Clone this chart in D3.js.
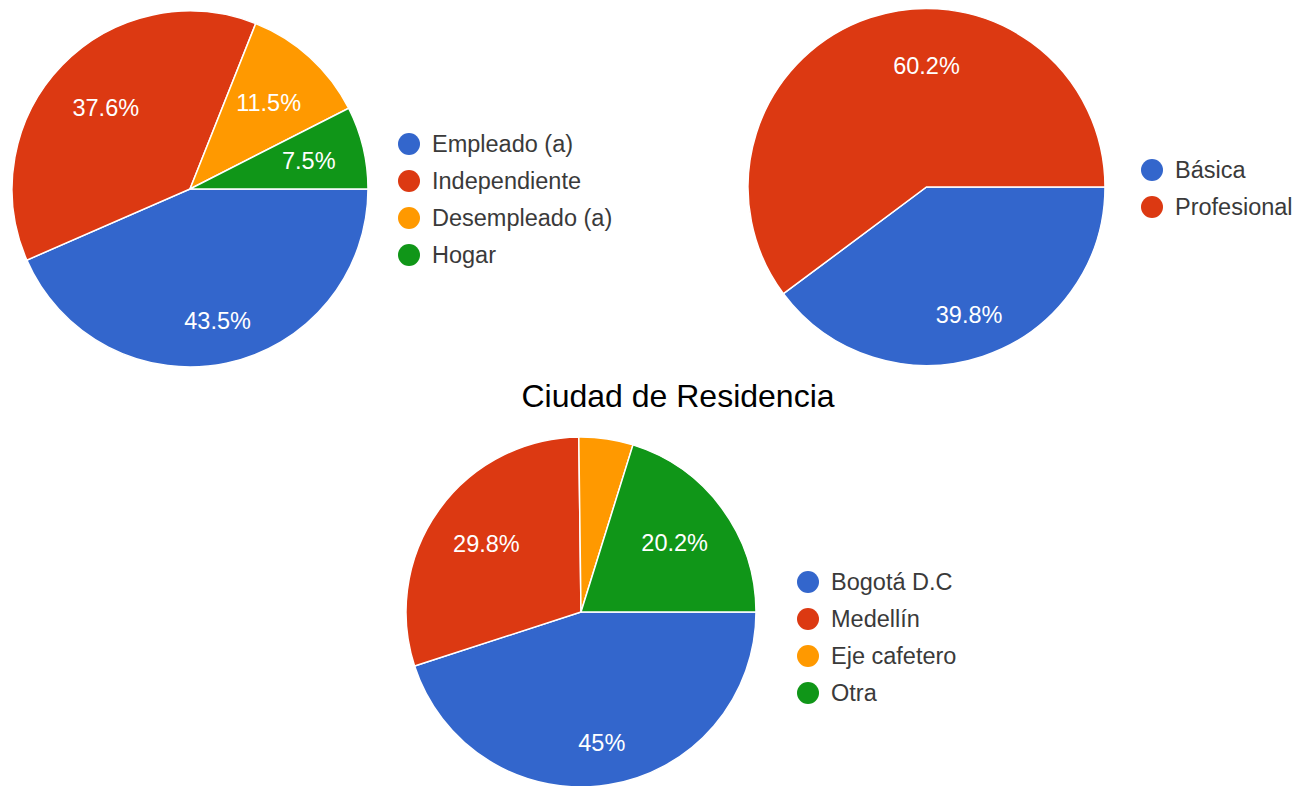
<!DOCTYPE html>
<html>
<head>
<meta charset="utf-8">
<script src="https://cdn.jsdelivr.net/npm/d3@7"></script>
<style>
  html, body { margin: 0; padding: 0; background: #fff; }
  svg { display: block; }
  text { font-family: Arial, "Liberation Sans", sans-serif; }
</style>
</head>
<body>
<svg id="chart" width="1296" height="786"></svg>
<script>
// ---- data ----
const colors = ["#3366CC", "#DC3912", "#FF9900", "#109618"];

const ocupacionCategories = ["Empleado (a)", "Independiente", "Desempleado (a)", "Hogar"];
const ocupacionValues = [43.5, 37.6, 11.5, 7.5];

const educacionCategories = ["Básica", "Profesional"];
const educacionValues = [39.8, 60.2];

const ciudadTitle = "Ciudad de Residencia";
const ciudadCategories = ["Bogotá D.C", "Medellín", "Eje cafetero", "Otra"];
const ciudadValues = [45, 29.8, 5, 20.2];

// ---- layout ----
const svg = d3.select("#chart");

const charts = [
  { cats: ocupacionCategories, vals: ocupacionValues, cx: 190, cy: 189, r: 178,
    legendX: 409, legendY: 144, title: null },
  { cats: educacionCategories, vals: educacionValues, cx: 926.5, cy: 187, r: 178.5,
    legendX: 1152, legendY: 170, title: null },
  { cats: ciudadCategories, vals: ciudadValues, cx: 581, cy: 612, r: 175,
    legendX: 808, legendY: 582, title: ciudadTitle, titleX: 678, titleY: 407 }
];

const fmt = v => (Math.round(v * 10) / 10).toString() + "%";

charts.forEach(c => {
  const pie = d3.pie().sort(null).value(d => d)
    .startAngle(Math.PI / 2).endAngle(Math.PI / 2 + 2 * Math.PI);
  const arcs = pie(c.vals);
  const arc = d3.arc().innerRadius(0).outerRadius(c.r);
  const g = svg.append("g").attr("transform", `translate(${c.cx},${c.cy})`);

  g.selectAll("path").data(arcs).enter().append("path")
    .attr("d", arc)
    .attr("fill", (d, i) => colors[i])
    .attr("stroke", "#fff")
    .attr("stroke-width", 1.5);

  g.selectAll("text.lbl").data(arcs.filter(d => d.data >= 6)).enter().append("text")
    .attr("class", "lbl")
    .attr("transform", d => {
      let a = (d.startAngle + d.endAngle) / 2;
      let rl;
      const span = d.endAngle - d.startAngle;
      if (span > Math.PI && d.startAngle < 2 * Math.PI && d.endAngle > 2 * Math.PI) {
        a = 0; rl = c.r * 0.68;
      } else {
        rl = c.r * (0.70 - 0.06 * Math.cos(a));
      }
      return `translate(${rl * Math.sin(a)},${-rl * Math.cos(a)})`;
    })
    .attr("text-anchor", "middle")
    .attr("dominant-baseline", "central")
    .attr("fill", "#fff")
    .attr("font-size", 23.5)
    .text(d => fmt(d.data));

  const lg = svg.append("g");
  c.cats.forEach((cat, i) => {
    const y = c.legendY + i * 37;
    lg.append("circle").attr("cx", c.legendX).attr("cy", y).attr("r", 11)
      .attr("fill", colors[i]);
    lg.append("text").attr("x", c.legendX + 23).attr("y", y)
      .attr("dominant-baseline", "central")
      .attr("fill", "#3a3a3a")
      .attr("font-size", 23.5)
      .text(cat);
  });

  if (c.title) {
    svg.append("text").attr("x", c.titleX).attr("y", c.titleY)
      .attr("text-anchor", "middle")
      .attr("fill", "#000")
      .attr("font-size", 32)
      .text(c.title);
  }
});
</script>
</body>
</html>
